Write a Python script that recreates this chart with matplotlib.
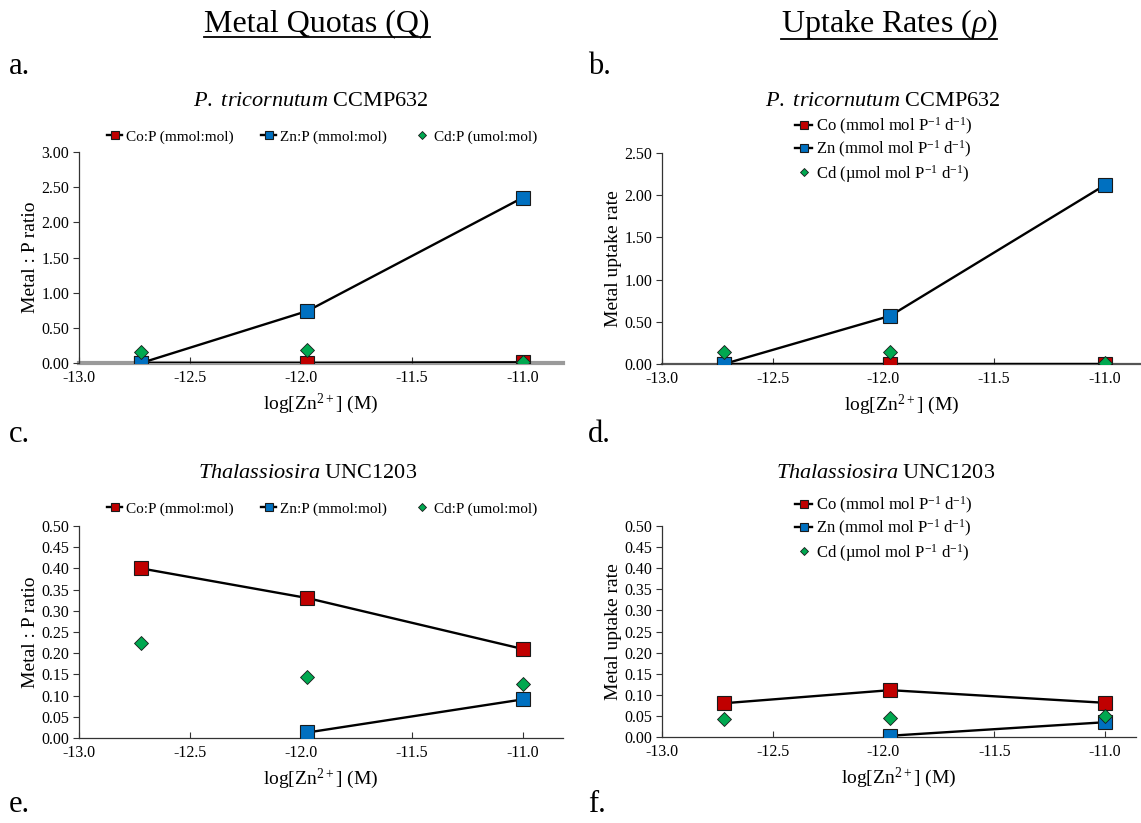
import numpy as np
import matplotlib
matplotlib.use('Agg')
import matplotlib.pyplot as plt
from matplotlib.lines import Line2D

plt.rcParams['font.family'] = 'Liberation Serif'
plt.rcParams['mathtext.fontset'] = 'custom'
plt.rcParams['mathtext.rm'] = 'Liberation Serif'
plt.rcParams['mathtext.it'] = 'Liberation Serif:italic'
plt.rcParams['axes.unicode_minus'] = False

# free Zn2+ treatments, log10 molar
log_zn = [-12.72, -11.97, -11.00]

# P. tricornutum CCMP632
pt_co_quota = [0.0, 0.0, 0.01]
pt_zn_quota = [0.0, 0.74, 2.35]
pt_cd_quota = [0.16, 0.18, 0.01]
pt_co_rate = [0.0, 0.0, 0.0]
pt_zn_rate = [0.0, 0.57, 2.12]
pt_cd_rate = [0.14, 0.14, 0.01]

# Thalassiosira UNC1203 (no Zn value at the lowest treatment)
th_co_quota = [0.40, 0.33, 0.21]
th_zn_quota = [np.nan, 0.013, 0.091]
th_cd_quota = [0.223, 0.143, 0.127]
th_co_rate = [0.080, 0.111, 0.081]
th_zn_rate = [np.nan, 0.003, 0.035]
th_cd_rate = [0.043, 0.046, 0.050]

quota_labels = ['Co:P (mmol:mol)', 'Zn:P (mmol:mol)', 'Cd:P (umol:mol)']
rate_labels = [r'Co (mmol mol P$^{-1}$ d$^{-1}$)',
               r'Zn (mmol mol P$^{-1}$ d$^{-1}$)',
               r'Cd (µmol mol P$^{-1}$ d$^{-1}$)']

RED = '#C00000'
BLUE = '#0070C0'
GREEN = '#00A850'
EDGE = '#1a1a1a'

W, H = 1141, 823
fig = plt.figure(figsize=(W / 100, H / 100), dpi=100)


def px_axes(left, top, right, bottom):
    return fig.add_axes([left / W, 1 - bottom / H, (right - left) / W, (bottom - top) / H])


def draw_panel(ax, co, zn, cd, labels, ylim, yticks, xmax, ylabel,
               leg_xy, leg_cols, leg_size, axis_color, axis_lw):
    h_co, = ax.plot(log_zn, co, color='black', lw=1.7, marker='s', ms=10.5,
                    mfc=RED, mec=EDGE, mew=0.8, zorder=3)
    h_zn, = ax.plot(log_zn, zn, color='black', lw=1.7, marker='s', ms=10.5,
                    mfc=BLUE, mec=EDGE, mew=0.8, zorder=4)
    h_cd, = ax.plot(log_zn, cd, ls='none', marker='D', ms=7,
                    mfc=GREEN, mec=EDGE, mew=0.6, zorder=5)

    xt = [-13.0, -12.5, -12.0, -11.5, -11.0]
    ax.set_xlim(-13.0, xmax)
    ax.set_ylim(*ylim)
    ax.set_xticks(xt)
    ax.set_xticklabels(['%.1f' % v for v in xt])
    ax.set_yticks(yticks)
    ax.set_yticklabels(['%.2f' % v for v in yticks])
    ax.tick_params(axis='y', direction='out', length=4, width=0.8,
                   labelsize=11.5, pad=3, colors='#333333', labelcolor='black')
    ax.tick_params(axis='x', direction='in', length=4, width=0.8,
                   labelsize=11.5, pad=5, colors='#333333', labelcolor='black')
    for s in ['top', 'right']:
        ax.spines[s].set_visible(False)
    ax.spines['left'].set_color('#333333')
    ax.spines['left'].set_linewidth(0.9)
    ax.spines['bottom'].set_color(axis_color)
    ax.spines['bottom'].set_linewidth(axis_lw)
    ax.spines['bottom'].set_zorder(1)
    ax.patch.set_alpha(0)

    ax.set_xlabel(r'log[Zn$^{2+}$] (M)', fontsize=14, labelpad=4)
    ax.set_ylabel(ylabel, fontsize=14, labelpad=2)

    ax.legend([h_co, h_zn, h_cd], labels, loc='center',
              bbox_to_anchor=(leg_xy[0] / W, 1 - leg_xy[1] / H),
              bbox_transform=fig.transFigure, ncol=leg_cols, frameon=False,
              fontsize=leg_size, handlelength=1.0, handletextpad=0.25,
              columnspacing=1.8, labelspacing=0.15, markerscale=0.55,
              borderpad=0)


ax_a = px_axes(79, 152, 563, 363)
draw_panel(ax_a, pt_co_quota, pt_zn_quota, pt_cd_quota, quota_labels,
           (0, 3.0), np.arange(0, 3.01, 0.5), -10.818, 'Metal : P ratio',
           (322, 137), 3, 11, '#9a9a9a', 3.0)

ax_b = px_axes(662, 153, 1141, 364)
draw_panel(ax_b, pt_co_rate, pt_zn_rate, pt_cd_rate, rate_labels,
           (0, 2.5), np.arange(0, 2.51, 0.5), -10.837, 'Metal uptake rate',
           (884, 150), 1, 12, '#555555', 1.6)

ax_c = px_axes(79, 526, 563, 738)
draw_panel(ax_c, th_co_quota, th_zn_quota, th_cd_quota, quota_labels,
           (0, 0.5), np.arange(0, 0.501, 0.05), -10.818, 'Metal : P ratio',
           (322, 509), 3, 11, '#333333', 0.9)

ax_d = px_axes(662, 526, 1136, 737)
draw_panel(ax_d, th_co_rate, th_zn_rate, th_cd_rate, rate_labels,
           (0, 0.5), np.arange(0, 0.501, 0.05), -10.86, 'Metal uptake rate',
           (884, 529), 1, 12, '#333333', 0.9)

# column headings, panel subtitles and letters
head_q = fig.text(317 / W, 1 - 24 / H, 'Metal Quotas (Q)', fontsize=23,
                  ha='center', va='center')
head_r = fig.text(889 / W, 1 - 24 / H, r'Uptake Rates ($\rho$)', fontsize=23,
                  ha='center', va='center')

fig.text(311 / W, 1 - 101 / H, r'$\mathit{P.\ tricornutum}$ CCMP632',
         fontsize=16, ha='center', va='center')
fig.text(883 / W, 1 - 102 / H, r'$\mathit{P.\ tricornutum}$ CCMP632',
         fontsize=16, ha='center', va='center')
fig.text(308 / W, 1 - 473 / H, r'$\mathit{Thalassiosira}$ UNC1203',
         fontsize=16, ha='center', va='center')
fig.text(886 / W, 1 - 473 / H, r'$\mathit{Thalassiosira}$ UNC1203',
         fontsize=16, ha='center', va='center')

for letter, x, y in [('a.', 9, 74), ('b.', 588, 74), ('c.', 9, 442),
                     ('d.', 588, 442), ('e.', 9, 812), ('f.', 588, 812)]:
    fig.text(x / W, 1 - y / H, letter, fontsize=22, ha='left', va='baseline')

# underline the two column headings
fig.canvas.draw()
renderer = fig.canvas.get_renderer()
for t in [head_q, head_r]:
    bb = t.get_window_extent(renderer).transformed(fig.transFigure.inverted())
    fig.add_artist(Line2D([bb.x0, bb.x1], [bb.y0 + 0.002, bb.y0 + 0.002],
                          transform=fig.transFigure, color='black', lw=1.3))

fig.savefig('out.png', dpi=100)
